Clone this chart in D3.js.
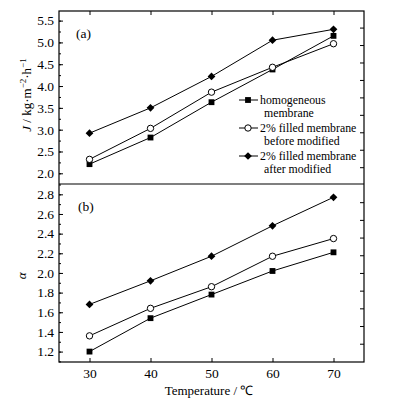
<!DOCTYPE html>
<html>
<head>
<meta charset="utf-8">
<script src="https://cdn.jsdelivr.net/npm/d3@7"></script>
<style>
  body { margin: 0; background: #fff; }
  svg { display: block; }
  svg text { font-family: "Liberation Serif", "Times New Roman", Times, serif !important; fill: #000; }
  .axis path, .axis line { stroke: #000; stroke-width: 1; }
</style>
</head>
<body>
<div id="canvas"></div>
<script>
// data
const temperatures = [30, 40, 50, 60, 70];
const fluxHomogeneous = [2.21, 2.82, 3.63, 4.38, 5.15];
const fluxBefore = [2.32, 3.03, 3.86, 4.43, 4.97];
const fluxAfter = [2.92, 3.50, 4.22, 5.05, 5.30];
const alphaHomogeneous = [1.20, 1.54, 1.78, 2.02, 2.21];
const alphaBefore = [1.36, 1.64, 1.86, 2.17, 2.35];
const alphaAfter = [1.68, 1.92, 2.17, 2.48, 2.77];
const fluxTicks = [2.0, 2.5, 3.0, 3.5, 4.0, 4.5, 5.0, 5.5];
const alphaTicks = [1.2, 1.4, 1.6, 1.8, 2.0, 2.2, 2.4, 2.6, 2.8];
const legendLabels = [
	["homogeneous", "membrane"],
	["2% filled membrane", "before modified"],
	["2% filled membrane", "after modified"]
];
const markerTypes = ["square", "circle", "diamond"];

const width = 396, height = 403;
const plotLeft = 59, plotRight = 364, plotTop = 11, plotMid = 184, plotBottom = 362;
const serif = "'Liberation Serif', 'Times New Roman', serif";

const svg = d3.select("#canvas").append("svg")
	.attr("width", width).attr("height", height)
	.attr("font-family", serif);

const x = d3.scaleLinear().domain([25, 75]).range([plotLeft, plotRight]);
const yA = d3.scaleLinear().domain([1.755, 5.72]).range([plotMid, plotTop]);
const yB = d3.scaleLinear().domain([1.094, 2.905]).range([plotBottom, plotMid]);

function marker(g, type, cx, cy){
	if (type === "circle"){
		g.append("circle").attr("cx", cx).attr("cy", cy).attr("r", 3.2)
			.attr("fill", "#fff").attr("stroke", "#000").attr("stroke-width", 1);
	} else if (type === "square"){
		g.append("path").attr("d", d3.symbol(d3.symbolSquare, 34)())
			.attr("transform", `translate(${cx},${cy})`).attr("fill", "#000");
	} else {
		g.append("path").attr("d", d3.symbol(d3.symbolSquare, 30)())
			.attr("transform", `translate(${cx},${cy}) rotate(45)`).attr("fill", "#000");
	}
}

function fixAxis(sel){
	sel.attr("font-family", serif).attr("font-size", 13.5);
	sel.select(".domain").remove();
}

function panel(y, seriesList, ticks, minorStep, rightTicks, label, bottomAxis){
	const g = svg.append("g");
	const [y0, y1] = y.range();

	// minor ticks on left
	const minor = d3.range(ticks[0] - minorStep, ticks[ticks.length - 1] + minorStep * 1.5, minorStep)
		.filter(v => y(v) <= y0 && y(v) >= y1);
	g.append("g").attr("class", "axis").attr("transform", `translate(${plotLeft},0)`)
		.call(d3.axisLeft(y).tickValues(minor).tickSize(-2).tickFormat(""))
		.call(fixAxis);
	g.append("g").attr("class", "axis").attr("transform", `translate(${plotLeft},0)`)
		.call(d3.axisLeft(y).tickValues(ticks).tickSize(-4).tickPadding(5).tickFormat(d3.format(".1f")))
		.call(fixAxis);
	// right side ticks
	g.append("g").attr("class", "axis").attr("transform", `translate(${plotRight},0)`)
		.call(d3.axisRight(y).tickValues(rightTicks).tickSize(-4).tickFormat(""))
		.call(fixAxis);

	if (bottomAxis){
		g.append("g").attr("class", "axis").attr("transform", `translate(0,${plotBottom})`)
			.call(d3.axisBottom(x).tickValues(temperatures).tickSize(-4).tickPadding(6))
			.call(fixAxis);
	} else {
		g.append("g").attr("class", "axis").attr("transform", `translate(0,${plotTop})`)
			.call(d3.axisTop(x).tickValues(temperatures).tickSize(-4).tickFormat(""))
			.call(fixAxis);
	}

	const line = d3.line().x((d, i) => x(temperatures[i])).y(d => y(d));
	seriesList.forEach((vals, k) => {
		g.append("path").attr("d", line(vals)).attr("fill", "none")
			.attr("stroke", "#000").attr("stroke-width", 1);
		vals.forEach((v, i) => marker(g, markerTypes[k], x(temperatures[i]), y(v)));
	});

	g.append("text").attr("x", label[1]).attr("y", y1 + 27)
		.attr("font-size", 13.5).text(label[0]);
}

panel(yA, [fluxHomogeneous, fluxBefore, fluxAfter], fluxTicks, 0.25,
	d3.range(2.14, 5.4, 0.4), ["(a)", 76], false);
panel(yB, [alphaHomogeneous, alphaBefore, alphaAfter], alphaTicks, 0.1,
	d3.range(1.28, 2.8, 0.18), ["(b)", 78], true);

// frame
svg.append("rect").attr("x", plotLeft).attr("y", plotTop)
	.attr("width", plotRight - plotLeft).attr("height", plotBottom - plotTop)
	.attr("fill", "none").attr("stroke", "#000").attr("stroke-width", 1.2);
svg.append("line").attr("x1", plotLeft).attr("x2", plotRight).attr("y1", plotMid).attr("y2", plotMid)
	.attr("stroke", "#000").attr("stroke-width", 1.2);

// legend
const leg = svg.append("g");
legendLabels.forEach((lines, k) => {
	const ly = 100 + k * 28;
	leg.append("line").attr("x1", 239).attr("x2", 258).attr("y1", ly).attr("y2", ly)
		.attr("stroke", "#000");
	marker(leg, markerTypes[k], 248, ly);
	leg.append("text").attr("x", 260).attr("y", ly + 4).attr("font-size", 11.8).text(lines[0]);
	leg.append("text").attr("x", 264).attr("y", ly + 17).attr("font-size", 11.8).text(lines[1]);
});

// axis titles
const yLab = svg.append("text").attr("transform", "translate(31,95) rotate(-90)")
	.attr("text-anchor", "middle").attr("font-size", 13);
yLab.append("tspan").attr("font-style", "italic").text("J");
yLab.append("tspan").text(" / kg·m");
yLab.append("tspan").attr("font-size", 9).attr("dy", -5).text("−2");
yLab.append("tspan").attr("dy", 5).text("·h");
yLab.append("tspan").attr("font-size", 9).attr("dy", -5).text("−1");

svg.append("text").attr("transform", `translate(26,${yB(1.97)}) rotate(-90)`)
	.attr("text-anchor", "middle").attr("font-size", 13).attr("font-style", "italic").text("α");

svg.append("text").attr("x", 209).attr("y", 395).attr("text-anchor", "middle")
	.attr("font-size", 13).text("Temperature /  ℃");
</script>
</body>
</html>
